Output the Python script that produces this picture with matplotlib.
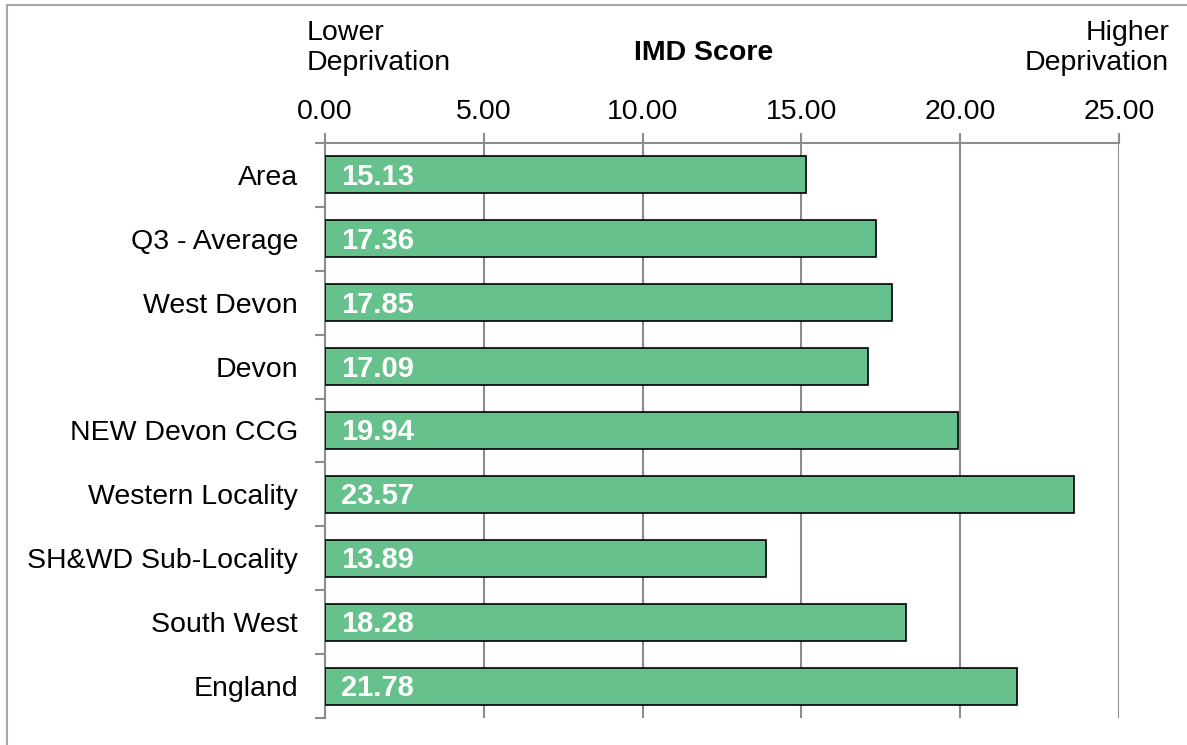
import matplotlib.pyplot as plt
import matplotlib.patches as patches
import numpy as np

# --- données ---
categories = ["Area", "Q3 - Average", "West Devon", "Devon", "NEW Devon CCG",
              "Western Locality", "SH&WD Sub-Locality", "South West", "England"]
scores = [15.13, 17.36, 17.85, 17.09, 19.94, 23.57, 13.89, 18.28, 21.78]
x_ticks = [0, 5, 10, 15, 20, 25]

plt.rcParams['font.family'] = ['Liberation Sans', 'DejaVu Sans']

W, H = 1187, 745
fs = 20.5
fig = plt.figure(figsize=(W / 100, H / 100), dpi=100)

# cadre gris autour du graphique
fig.add_artist(patches.Rectangle((6.5 / W, -0.1), 1.2, 1.1 - 5.5 / H, transform=fig.transFigure,
                                 fill=False, edgecolor='#a6a6a6', linewidth=1.5))

ax = fig.add_axes([325 / W, 1 - 718 / H, (1119 - 325) / W, (718 - 143) / H])

gris = '#8c8c8c'
y = np.arange(len(categories))
ax.barh(y, scores, height=0.58, color='#66C18C', edgecolor='black', linewidth=1.2, zorder=3)

for yi, v in zip(y, scores):
    ax.text(0.5, yi + 0.03, f"{v:.2f}", color='white', fontweight='bold', fontsize=21,
            va='center', ha='left', zorder=4)

ax.set_xlim(0, 25)
ax.set_ylim(len(categories) - 0.5, -0.5)

ax.xaxis.tick_top()
ax.set_xticks(x_ticks)
ax.set_xticklabels([f"{t:.2f}" for t in x_ticks], fontsize=fs)
ax.tick_params(axis='x', direction='out', length=7, width=1.5, color=gris, pad=6)
ax.grid(axis='x', color=gris, linewidth=1.5, zorder=0)

# graduations aux limites des catégories, libellés au centre
ax.set_yticks(np.arange(len(categories) + 1) - 0.5)
ax.set_yticklabels([])
ax.tick_params(axis='y', which='major', direction='out', length=7, width=1.5, color=gris)
ax.set_yticks(y, minor=True)
ax.set_yticklabels(categories, minor=True, fontsize=fs)
ax.tick_params(axis='y', which='minor', length=0, pad=19.5)

for s in ['right', 'bottom']:
    ax.spines[s].set_visible(False)
for s in ['top', 'left']:
    ax.spines[s].set_color(gris)
    ax.spines[s].set_linewidth(1.5)

fig.text(307 / W, 1 - 20 / H, "Lower\nDeprivation", ha='left', va='top', fontsize=fs, linespacing=1.22)
fig.text(1169 / W, 1 - 20 / H, "Higher\nDeprivation", ha='right', va='top', fontsize=fs, linespacing=1.22)
fig.text(704 / W, 1 - 53 / H, "IMD Score", ha='center', va='center', fontsize=fs, fontweight='bold')

fig.savefig("out.png", dpi=100)
